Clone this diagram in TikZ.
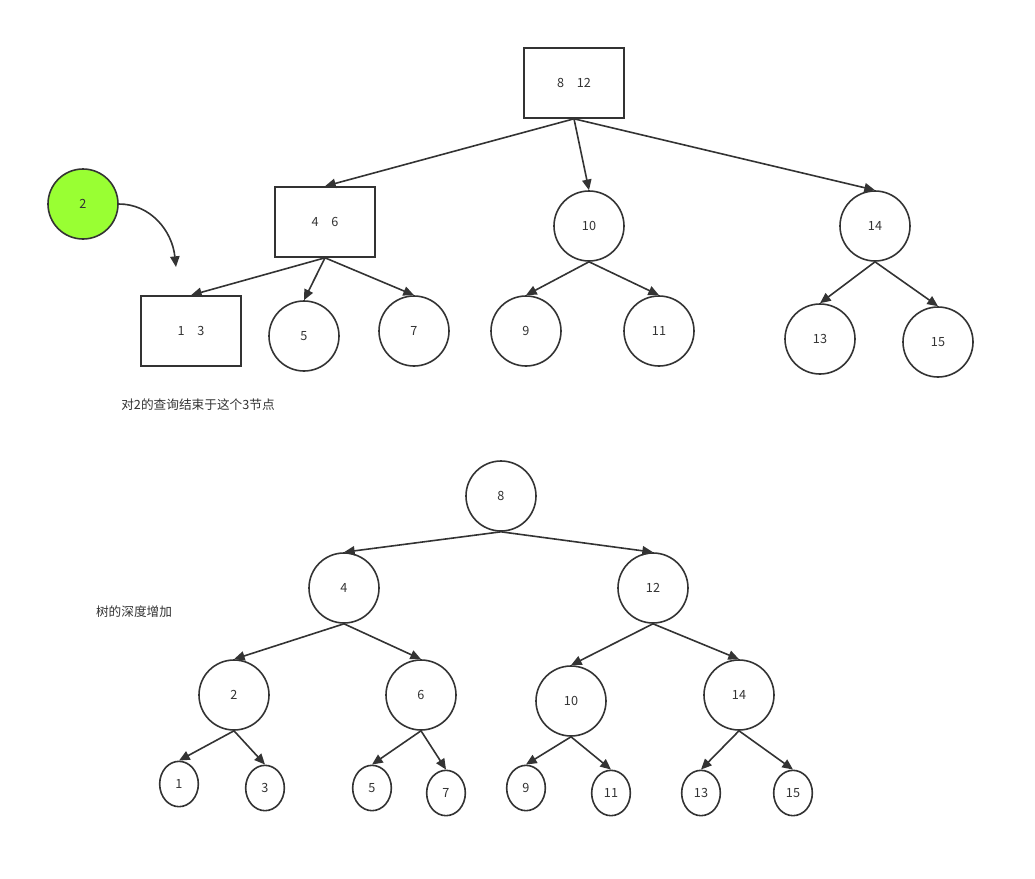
\documentclass[tikz,border=0pt]{standalone}
\usepackage{fontspec}
\setmainfont{Noto Sans CJK SC}
\usetikzlibrary{arrows.meta,shapes.geometric}
\definecolor{ln}{HTML}{333333}
\definecolor{gr}{HTML}{99FF33}
\begin{document}
\begin{tikzpicture}[x=0.75pt,y=-0.75pt,
  every node/.style={font=\fontsize{9.5}{11}\selectfont,text=ln},
  c/.style={draw=ln,line width=1.2pt,circle,minimum size=52.5pt,inner sep=0pt},
  s/.style={draw=ln,line width=1.2pt,ellipse,minimum width=29pt,minimum height=34pt,inner sep=0pt},
  r/.style={draw=ln,line width=1.2pt,rectangle,minimum width=75pt,minimum height=52.5pt},
  a/.style={draw=ln,line width=1.2pt,-{Triangle[length=8pt,width=7pt]}},
  lbl/.style={font=\fontsize{9.5}{11}\selectfont}]
\useasboundingbox (0,0) rectangle (1035,878);
\node[r] (t812) at (574,83) {8\quad 12};
\node[r] (t46) at (325,222) {4\quad 6};
\node[r] (t13) at (191,331) {1\quad 3};
\node[c,fill=gr] (g2) at (83,204) {2};
\node[c] (t10) at (589,226) {10};
\node[c] (t14) at (875,226) {14};
\node[c] (t5) at (304,336) {5};
\node[c] (t7) at (414,331) {7};
\node[c] (t9) at (526,331) {9};
\node[c] (t11) at (659,331) {11};
\node[c] (t13b) at (820,339) {13};
\node[c] (t15) at (938,342) {15};
\coordinate (ge) at (176,267);
\node[lbl] (n1) at (198,405) {对2的查询结束于这个3节点};
\draw[a] (t812.south) -- (t46.north);
\draw[a] (t812.south) -- (t10.north);
\draw[a] (t812.south) -- (t14.north);
\draw[a] (t46.south) -- (t13.north);
\draw[a] (t46.south) -- (t5.north);
\draw[a] (t46.south) -- (t7.north);
\draw[a] (t10.south) -- (t9.north);
\draw[a] (t10.south) -- (t11.north);
\draw[a] (t14.south) -- (t13b.north);
\draw[a] (t14.south) -- (t15.north);
\draw[a] (g2.east) .. controls (150,204) and (172,230) .. (ge);

\node[c] (b8) at (501,496) {8};
\node[c] (b4) at (344,588) {4};
\node[c] (b12) at (653,588) {12};
\node[c] (b2) at (234,695) {2};
\node[c] (b6) at (421,695) {6};
\node[c] (b10) at (571,701) {10};
\node[c] (b14) at (739,695) {14};
\node[s] (b1) at (179,784) {1};
\node[s] (b3) at (265,788) {3};
\node[s] (b5) at (372,788) {5};
\node[s] (b7) at (446,793) {7};
\node[s] (b9) at (526,788) {9};
\node[s] (b11) at (611,793) {11};
\node[s] (b13) at (701,793) {13};
\node[s] (b15) at (793,793) {15};
\node[lbl] (n2) at (134,612) {树的深度增加};
\draw[a] (b8.south) -- (b4.north);
\draw[a] (b8.south) -- (b12.north);
\draw[a] (b4.south) -- (b2.north);
\draw[a] (b4.south) -- (b6.north);
\draw[a] (b12.south) -- (b10.north);
\draw[a] (b12.south) -- (b14.north);
\draw[a] (b2.south) -- (b1.north);
\draw[a] (b2.south) -- (b3.north);
\draw[a] (b6.south) -- (b5.north);
\draw[a] (b6.south) -- (b7.north);
\draw[a] (b10.south) -- (b9.north);
\draw[a] (b10.south) -- (b11.north);
\draw[a] (b14.south) -- (b13.north);
\draw[a] (b14.south) -- (b15.north);
\end{tikzpicture}
\end{document}
